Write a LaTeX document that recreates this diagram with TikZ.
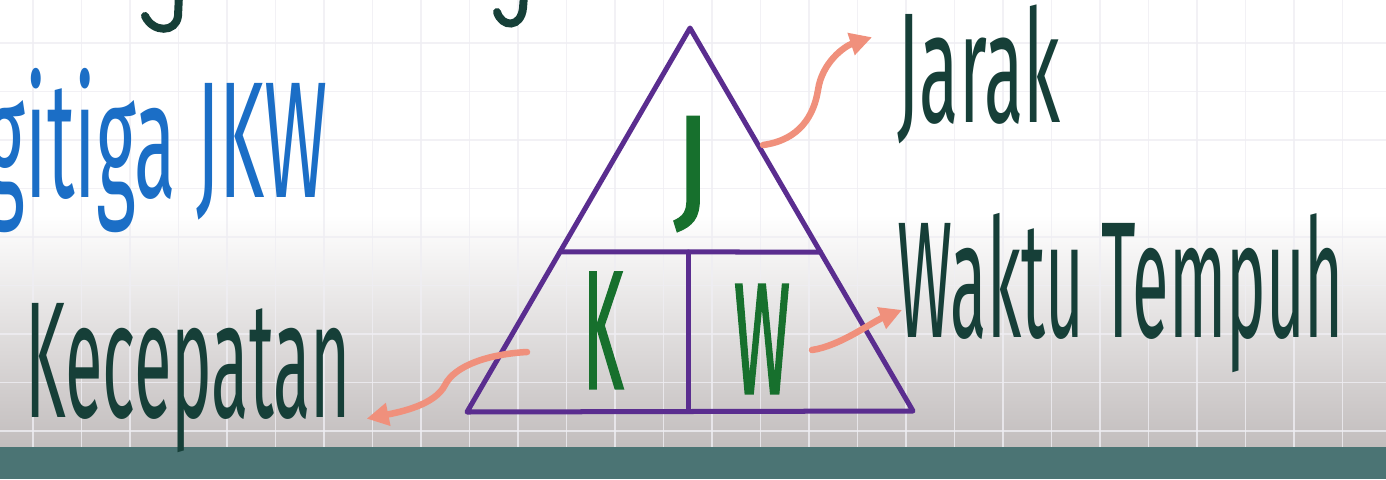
\documentclass[tikz,border=0pt]{standalone}
\usepackage{fontspec}
\setmainfont{Fira Sans}
\newfontfamily\cellfont{Fira Sans}[FakeBold=2]
\usetikzlibrary{arrows.meta,calc}

\definecolor{triline}{HTML}{5A2D8F}
\definecolor{letgreen}{HTML}{17702D}
\definecolor{inkdark}{HTML}{163F38}
\definecolor{jkwblue}{HTML}{1B6EC6}
\definecolor{salmon}{HTML}{F0907C}
\definecolor{gridline}{HTML}{EFEEF3}
\definecolor{shadegray}{HTML}{C2BDBD}
\definecolor{bandteal}{HTML}{4B7474}

% squeeze a word into a given width and cap height
\newcommand{\fitlabel}[3]{\resizebox{#1}{#2}{\raisebox{0pt}[\fontcharht\font`H][0pt]{#3}}}

\begin{document}
\begin{tikzpicture}[x=0.01cm,y=-0.01cm,>={Triangle[length=0.22cm,width=0.22cm]},
  side/.style={triline,line width=0.05cm,line join=round,line cap=round},
  letter/.style={inner sep=0pt,text=letgreen,anchor=base,font=\cellfont},
  lbl/.style={inner sep=0pt,text=inkdark,anchor=base west},
  hint/.style={->,salmon,line width=0.065cm,line cap=round},
  hook/.style={inkdark,line width=0.08cm,line cap=round}]
  \useasboundingbox (0,0) rectangle (1386,479);
  \clip (0,0) rectangle (1386,479);

  % paper
  \fill[white] (0,0) rectangle (1386,479);
  \shade[top color=white,bottom color=shadegray] (0,215) rectangle (1386,448);
  \foreach \k in {0,...,28}{
    \draw[gridline,line width=0.015cm,opacity=0.8] (33+48.5*\k,0) -- (33+48.5*\k,448);
  }
  \foreach \k in {0,...,8}{
    \draw[gridline,line width=0.015cm,opacity=0.8] (0,43+48.5*\k) -- (1386,43+48.5*\k);
  }
  \fill[bandteal] (0,447) rectangle (1386,479);

  % tails of the line above
  \draw[hook] (179,-5) -- (178,16) .. controls (176,33) and (153,33) .. (145,16);
  \draw[hook] (524,-5) -- (523,8) .. controls (521,28) and (502,28) .. (497,12);

  % triangle
  \coordinate (apex) at (690,28);
  \coordinate (bl) at (467,412);
  \coordinate (br) at (913,411);
  \coordinate (ml) at ($(apex)!0.583!(bl)$);
  \coordinate (mr) at ($(apex)!0.585!(br)$);
  \coordinate (mt) at (688,252);
  \coordinate (mb) at (688,411);
  \draw[side] (apex) -- (bl) -- (br) -- cycle;
  \draw[side] (ml) -- (mr);
  \draw[side] (mt) -- (mb);

  \node[letter] (j) at (692,212) {\fitlabel{0.36cm}{0.95cm}{J}};
  \node[letter] (k) at (603,388) {\fitlabel{0.40cm}{1.15cm}{K}};
  \node[letter] (w) at (762,393) {\fitlabel{0.56cm}{1.08cm}{W}};

  % labels
  \node[lbl,text=jkwblue] (judul) at (-15,197) {\fitlabel{3.42cm}{1.14cm}{gitiga JKW}};
  \node[lbl] (jarak) at (897,123) {\fitlabel{1.63cm}{1.08cm}{Jarak}};
  \node[lbl] (waktu) at (897,337) {\fitlabel{4.46cm}{1.14cm}{Waktu Tempuh}};
  \node[lbl] (kecep) at (25,417) {\fitlabel{3.25cm}{1.14cm}{Kecepatan}};

  % pointers
  \coordinate (jfrom) at (763,145);
  \coordinate (jto) at ($(jarak.north west)+(-25,23)$);
  \coordinate (wfrom) at (812,350);
  \coordinate (wto) at ($(waktu.west)+(5,30)$);
  \coordinate (kfrom) at (527,352);
  \coordinate (kto) at ($(kecep.south east)+(15,1)$);
  \draw[hint] (jfrom) .. controls (800,140) and (814,115) .. (818,90)
    .. controls (822,62) and (845,46) .. (jto);
  \draw[hint] (wfrom) .. controls (840,346) and (872,322) .. (wto);
  \draw[hint] (kfrom) .. controls (490,354) and (455,365) .. (445,385)
    .. controls (435,405) and (400,412) .. (kto);
\end{tikzpicture}
\end{document}
